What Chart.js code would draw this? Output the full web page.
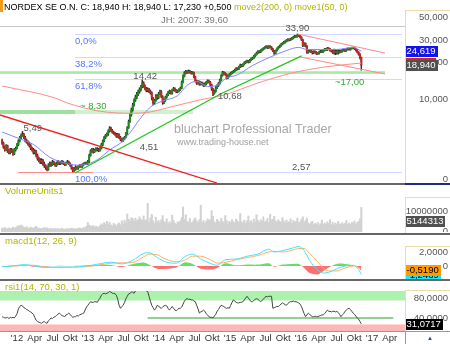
<!DOCTYPE html>
<html><head><meta charset="utf-8">
<script src="https://cdn.jsdelivr.net/npm/chart.js@4.4.1/dist/chart.umd.min.js"></script>
<style>
html,body{margin:0;padding:0;background:#fff;}
body{position:relative;width:450px;height:344px;overflow:hidden;font-family:"Liberation Sans",Arial,sans-serif;}
canvas{position:absolute;left:0;}
.t{position:absolute;white-space:nowrap;font-size:9.5px;line-height:12px;}
.ln{position:absolute;}
</style></head><body>
<canvas id="cMain" width="450" height="173" style="top:10px"></canvas>
<canvas id="cVol" width="450" height="46" style="top:186px"></canvas>
<canvas id="cMacd" width="450" height="44" style="top:235px"></canvas>
<canvas id="cRsi" width="450" height="53" style="top:291px"></canvas>
<div class="ln" style="left:0;top:0;width:3px;height:12px;background:#f39a1e"></div>
<div class="t" style="left:4px;top:1px;color:#000;font-size:9px">NORDEX SE O.N. C: 18,940 H: 18,940 L: 17,230 +0,500 <span style="color:#b4b400">move2(200, 0) move1(50, 0)</span></div>
<div class="t" style="left:5px;top:185px;color:#b4b400">VolumeUnits1</div>
<div class="t" style="left:5px;top:235px;color:#b4b400">macd1(12, 26, 9)</div>
<div class="t" style="left:5px;top:281px;color:#b4b400">rsi1(14, 70, 30, 1)</div>
<div class="ln" style="left:405px;top:10px;width:44px;height:172px;border-left:1px solid #ecdca8;border-top:1px solid #ecdca8"></div>
<div class="ln" style="left:405px;top:197px;width:44px;height:35px;border-left:1px solid #ecdca8;border-top:1px solid #ecdca8"></div>
<div class="ln" style="left:405px;top:246px;width:44px;height:32px;border-left:1px solid #ecdca8;border-top:1px solid #ecdca8"></div>
<div class="ln" style="left:405px;top:290px;width:44px;height:40px;border-left:1px solid #ecdca8;border-top:1px solid #ecdca8"></div>
<div class="ln" style="left:0;top:183px;width:405px;height:2px;background:#666"></div>
<div class="ln" style="left:405px;top:183px;width:45px;height:2px;background:#1c2c80"></div>
<div class="ln" style="left:0;top:233px;width:450px;height:2px;background:#666"></div>
<div class="ln" style="left:0;top:279px;width:450px;height:2px;background:#666"></div>
<div class="ln" style="left:0;top:331px;width:450px;height:1px;background:#999"></div>
<div class="ln" style="left:405px;top:331px;width:1px;height:13px;background:#999"></div>
<div class="t" style="left:427px;top:332px;color:#2040a0;font-size:6px">&#9650;</div>
<script>
// ---------------- data ----------------
const START_DATE = 2011.79;          // first weekly candle (fractional year)
const WEEK = 7 / 365.25;
const firstOpen = 4.6;
const closes = [4.4,4.1,3.9,4.2,3.8,3.7,3.9,3.8,3.6,3.9,
4.0,4.3,4.6,4.9,5.1,5.2,4.9,4.6,4.5,4.4,
4.2,4.0,3.9,3.7,3.8,3.5,3.3,3.2,3.1,3.2,
3.0,2.9,2.8,2.7,2.9,3.0,2.95,3.1,3.0,2.9,
3.0,3.1,3.0,3.05,3.1,3.0,2.95,3.05,3.1,3.0,
2.9,2.75,2.65,2.7,2.8,2.75,2.85,2.9,2.85,2.95,
3.0,3.05,3.0,3.1,3.5,3.8,3.9,3.75,3.85,3.95,
3.9,3.85,4.0,4.3,4.6,4.9,5.1,5.2,5.5,5.8,
5.6,5.4,5.3,5.2,5.0,5.2,4.9,4.7,4.6,4.8,
4.9,5.3,5.9,6.6,7.5,8.2,9.0,9.8,10.4,11.0,
11.5,12.0,12.6,13.6,12.8,12.2,11.8,12.1,11.6,11.3,
10.2,9.3,9.8,10.6,10.3,11.1,11.6,10.5,9.4,9.8,
10.4,10.9,11.3,11.6,11.2,11.9,12.2,11.8,11.5,11.7,
12.0,12.3,13.8,15.4,16.4,16.8,16.5,16.9,16.6,16.3,
16.5,15.2,14.1,13.5,13.9,13.2,13.6,13.4,12.9,13.3,
13.7,14.1,13.8,13.1,12.1,11.2,11.6,12.4,12.9,13.4,
14.3,15.6,16.5,16.2,15.9,14.9,15.4,15.9,16.3,16.6,
16.9,17.3,17.8,17.6,18.3,18.9,18.6,19.2,19.8,20.1,
20.4,20.0,20.8,21.3,21.6,22.4,23.0,23.8,24.5,24.2,
24.9,25.4,25.9,26.4,26.8,26.2,26.9,26.5,25.6,24.8,
23.6,24.9,25.8,26.5,27.2,27.9,28.5,29.0,29.6,30.1,
30.6,30.2,30.9,31.3,32.0,32.6,32.2,33.2,32.8,32.0,
30.5,27.3,28.4,27.0,24.1,24.6,24.9,24.3,23.8,24.4,
24.1,23.5,23.6,24.2,24.6,24.3,24.9,25.5,25.2,26.0,
25.6,25.0,24.6,24.1,24.5,23.9,24.3,24.1,24.6,24.4,
24.9,25.2,24.8,25.4,25.7,25.3,25.8,26.1,26.2,25.6,
25.0,24.1,23.2,21.7,18.94];
const highs = [4.75,4.5,4.2,4.3,4.25,3.9,4.0,4.0,3.9,4.0,
4.1,4.4,4.7,5.0,5.25,5.49,5.3,5.0,4.75,4.6,
4.5,4.3,4.1,4.0,3.9,3.85,3.6,3.4,3.3,3.3,
3.25,3.1,2.95,2.85,3.0,3.1,3.1,3.2,3.15,3.05,
3.1,3.2,3.15,3.15,3.2,3.15,3.05,3.1,3.2,3.15,
3.05,2.95,2.8,2.8,2.9,2.85,2.9,2.95,2.95,3.0,
3.05,3.1,3.1,3.2,3.6,3.9,4.0,4.0,3.95,4.05,
4.05,4.0,4.1,4.4,4.7,5.0,5.2,5.35,5.65,6.0,
5.95,5.7,5.5,5.4,5.3,5.3,5.25,5.0,4.8,4.9,
5.0,5.4,6.0,6.8,7.7,8.5,9.3,10.1,10.8,11.4,
11.9,12.4,13.0,14.42,13.9,13.1,12.5,12.4,12.3,11.9,
11.5,10.4,10.0,10.9,10.9,11.4,11.9,11.8,10.7,10.0,
10.6,11.1,11.6,11.9,11.8,12.1,12.5,12.4,12.0,11.9,
12.2,12.6,14.1,15.8,16.8,17.2,17.1,17.3,17.2,16.9,
16.8,16.6,15.4,14.3,14.2,14.1,13.9,13.8,13.6,13.6,
14.0,14.4,14.3,14.0,13.3,12.3,11.9,12.7,13.2,13.7,
14.6,15.9,16.9,16.8,16.5,16.1,15.7,16.2,16.6,16.9,
17.2,17.6,18.1,18.1,18.6,19.3,19.2,19.5,20.2,20.5,
20.8,20.7,21.1,21.7,22.0,22.8,23.4,24.2,24.9,24.9,
25.3,25.8,26.3,26.8,27.3,27.2,27.3,27.3,26.8,25.9,
25.0,25.2,26.2,26.9,27.6,28.3,28.9,29.5,30.0,30.6,
31.1,31.0,31.4,31.8,32.5,33.1,33.0,33.9,33.6,33.1,
32.3,30.8,28.9,28.7,27.3,25.1,25.4,25.3,24.7,24.8,
24.8,24.4,24.0,24.6,25.0,25.0,25.3,25.9,25.9,26.4,
26.3,25.9,25.3,25.0,25.6,25.4,25.2,25.3,25.2,25.1,
25.4,25.6,25.5,25.8,26.1,26.0,26.2,26.5,26.6,26.5,
25.9,25.3,24.4,23.5,22.0];
const lows = [4.3,4.0,3.8,3.85,3.7,3.6,3.6,3.7,3.5,3.55,
3.8,3.95,4.2,4.5,4.8,5.0,4.8,4.5,4.4,4.25,
4.1,3.9,3.8,3.6,3.6,3.4,3.2,3.1,3.0,3.0,
2.9,2.8,2.7,2.62,2.65,2.85,2.85,2.9,2.95,2.85,
2.85,2.95,2.95,2.95,3.0,2.95,2.9,2.9,3.0,2.95,
2.85,2.7,2.57,2.6,2.65,2.7,2.7,2.8,2.8,2.8,
2.9,2.95,2.95,2.95,3.05,3.45,3.7,3.65,3.7,3.8,
3.8,3.75,3.8,3.95,4.2,4.5,4.8,5.0,5.1,5.4,
5.5,5.3,5.2,5.1,4.9,4.9,4.8,4.6,4.51,4.55,
4.7,4.85,5.2,5.8,6.5,7.3,8.0,8.8,9.6,10.1,
10.7,11.2,11.7,12.4,12.5,11.9,11.5,11.5,11.3,11.0,
9.9,9.0,9.1,9.6,10.0,10.1,10.9,10.3,9.1,9.2,
9.6,10.2,10.7,11.1,11.0,11.0,11.7,11.6,11.3,11.3,
11.5,11.8,12.2,13.6,15.2,16.1,16.2,16.3,16.3,16.0,
16.0,14.9,13.8,13.2,13.3,13.0,13.0,13.1,12.7,12.7,
13.1,13.5,13.6,12.9,11.8,10.68,11.0,11.4,12.2,12.7,
13.2,14.1,15.4,15.9,15.6,14.6,14.7,15.2,15.7,16.1,
16.4,16.7,17.1,17.3,17.4,18.1,18.3,18.4,19.0,19.5,
19.8,19.7,19.8,20.6,21.0,21.4,22.1,22.8,23.5,23.8,
23.9,24.6,25.1,25.6,26.1,25.8,25.9,26.1,25.2,24.4,
23.1,23.4,24.6,25.5,26.2,26.9,27.6,28.1,28.6,29.2,
29.7,29.8,29.9,30.5,30.9,31.6,31.8,31.9,32.3,31.5,
30.0,26.8,27.0,26.6,23.6,23.7,24.2,23.9,23.3,23.4,
23.7,23.1,23.1,23.3,23.9,23.9,24.0,24.6,24.8,24.9,
25.2,24.6,24.2,23.6,23.2,23.0,23.2,23.3,23.7,23.9,
24.1,24.6,24.4,24.5,25.1,25.0,25.0,25.5,25.8,25.3,
24.6,23.8,22.8,21.3,17.23];
const volumesM = [1.9,1.6,2.2,1.7,1.5,2.0,1.6,1.8,2.4,1.7,
2.2,2.6,3.2,2.8,3.4,3.0,2.3,2.0,2.6,1.9,
1.8,2.4,2.1,1.7,2.3,2.8,2.0,1.9,1.6,1.8,
1.7,2.2,1.9,2.0,1.6,1.5,1.8,1.4,1.7,1.6,
1.5,1.7,1.4,1.6,1.8,1.5,1.3,1.6,1.4,1.7,
1.5,1.9,1.7,1.4,1.6,1.5,1.8,2.0,1.7,1.6,
2.2,1.9,2.8,4.6,3.4,3.0,2.6,3.2,2.4,2.8,
2.6,2.1,3.2,4.0,3.5,4.6,3.8,5.2,3.6,4.8,
3.4,3.0,4.2,3.6,2.8,3.9,4.4,3.5,5.5,4.0,
5.8,4.6,8.8,6.2,5.4,7.0,6.5,5.2,6.8,5.5,
6.0,7.4,6.2,5.6,7.8,5.6,6.0,14.0,4.6,6.8,
8.6,5.4,4.2,7.2,4.8,5.6,4.4,6.0,8.0,5.2,
4.6,6.4,4.0,5.0,4.4,8.2,5.6,4.2,3.8,5.0,
4.6,5.4,7.0,12.2,6.2,8.4,5.2,4.8,6.6,4.4,
5.0,6.0,6.8,5.4,4.6,6.0,13.0,4.8,5.6,4.2,
5.2,6.4,5.8,6.0,10.4,7.6,5.0,4.4,6.2,5.4,
4.8,6.6,5.2,4.4,8.0,5.6,4.0,5.2,4.6,6.0,
5.0,4.4,6.2,5.4,4.8,9.0,5.0,4.6,5.8,4.2,
5.4,7.8,4.8,5.6,4.4,6.4,5.0,8.4,5.6,4.6,
6.0,5.2,7.4,4.8,5.4,6.6,4.6,8.6,5.8,6.2,
7.6,5.4,4.8,6.0,5.2,4.6,7.0,5.4,4.4,5.8,
4.6,5.0,6.4,4.2,5.6,4.8,5.2,6.8,4.6,5.0,
6.2,7.4,4.8,5.6,6.8,4.4,3.8,4.6,5.2,3.6,
4.2,3.8,4.6,3.4,4.0,5.8,3.6,4.4,3.8,5.0,
4.2,6.0,3.6,4.8,3.4,4.4,3.8,5.2,4.0,3.6,
4.6,3.8,4.2,5.6,3.6,4.4,3.8,4.8,4.2,5.4,
3.8,4.6,5.2,6.4,12.0];
const rsiValues = [43,42,41,41,42,40,42,41,42,41,
44,48,56,60,62,61,58,57,55,54,
52,51,49,47,42,37,35,34,33,32,
34,35,33,32,36,38,41,40,42,43,
45,47,49,47,45,44,43,46,47,49,
47,44,42,43,43,45,44,46,47,48,
49,54,59,62,65,68,67,67,68,68,
67,71,74,79,81,82,81,82,83,85,
84,82,82,81,79,72,62,57,60,62,
67,73,77,81,82,84,84,82,86,88,
90,89,91,92,90,88,86,85,77,69,
62,58,54,57,62,61,58,57,59,61,
62,61,57,54,57,60,57,54,53,55,
57,57,59,64,69,72,73,72,72,71,
71,69,68,62,56,49,51,52,54,52,
48,46,43,42,42,41,44,47,52,55,
59,62,61,60,58,57,58,57,62,67,
71,69,67,66,66,67,67,68,71,74,
77,74,71,68,68,70,72,73,72,70,
68,70,72,75,77,76,77,77,77,57,
58,59,60,60,62,64,66,65,63,62,
65,67,68,68,69,68,68,67,66,64,
60,54,48,43,46,49,47,45,43,43,
44,43,43,44,45,46,46,48,51,54,
52,52,51,52,52,51,52,50,47,43,
46,48,52,54,56,57,55,52,49,47,
44,41,39,35,31.07];
const maFastWeeks  = [0,11,23,35,48,57,65,72,79,87,94,101,109,118,129,136,143,151,158,165,173,184,197,209,218,224,234,246,258,264];
const maFastValues = [5.43,4.87,4.30,3.39,3.0,2.92,3.04,3.34,3.88,4.42,5.35,6.86,8.64,9.7,10.7,13.0,14.0,12.7,13.0,14.9,15.8,18.8,22.0,24.9,26.4,25.4,25.4,25.4,26.4,24.62];
const maSlowWeeks  = [0,39,48,72,96,109,121,145,163,188,213,237,264];
const maSlowValues = [12.83,10.25,9.33,8.0,7.7,7.9,8.5,9.87,10.84,13.56,16.35,18.3,19.7];
const macdWeeks   = [0,10,16,24,30,40,52,62,70,80,88,96,104,108,114,120,128,134,140,146,154,158,164,172,180,188,196,200,206,214,218,222,226,232,236,240,246,252,258,262,264];
const macdValues  = [-0.1,0.05,0.2,0.0,-0.2,-0.15,-0.15,0.0,0.25,0.55,0.3,0.8,1.8,1.9,1.2,0.6,0.4,1.3,1.7,1.0,0.3,0.1,0.9,1.0,1.4,1.7,2.4,2.0,2.2,2.6,2.8,2.2,0.8,-0.6,-1.0,-0.9,-0.4,0.0,0.1,-0.5,-1.24];
const signalValues= [-0.1,0.0,0.1,0.1,-0.1,-0.2,-0.15,-0.1,0.1,0.4,0.45,0.5,1.3,1.7,1.6,1.0,0.6,0.8,1.4,1.4,0.8,0.4,0.5,0.9,1.2,1.5,2.0,2.1,2.0,2.3,2.5,2.5,1.8,0.6,-0.3,-0.7,-0.7,-0.3,0.0,-0.2,-0.52];
const quarterLabels = ["'12","Apr","Jul","Okt","'13","Apr","Jul","Okt","'14","Apr","Jul","Okt","'15","Apr","Jul","Okt","'16","Apr","Jul","Okt","'17","Apr"];
const quarterDates  = [2012,2012.25,2012.5,2012.75,2013,2013.25,2013.5,2013.75,2014,2014.25,2014.5,2014.75,2015,2015.25,2015.5,2015.75,2016,2016.25,2016.5,2016.75,2017,2017.25];
const priceTickValues = [2.255,10,20,30,50];
const priceTickLabels = ['0','10,000','20,000','30,000','50,000'];
const fibLevels = [33.90,21.93,14.54,2.57];
const fibLabels = ['0,0%','38,2%','61,8%','100,0%'];
const jhLevel = 39.60;
const band17 = [16.1,16.9];
const band830 = [7.6,8.2];
const rsiUpper = 70, rsiLower = 30, rsiSupport = 41;
const lastClose = 18.94, lastMaFast = 24.619, lastMaSlow = 19.7;
const lastVolume = 5144313, lastMacd = -1.2439, lastSignal = -0.5190, lastRsi = 31.0717;

// ---------------- helpers ----------------
const FONT = '"Liberation Sans", Arial, sans-serif';
const wd = i => START_DATE + i * WEEK;
const X_MIN = 2011.7606, X_MAX = 2017.4648;
function linRange(top, h, v1, y1, v2, y2) { const k = (y2 - y1) / (v2 - v1); return { max: v1 + (top - y1) / k, min: v1 + (top + h - y1) / k }; }
function logRange(top, h, v1, y1, v2, y2) { const k = (y2 - y1) / (Math.log(v2) - Math.log(v1)); return { max: Math.exp(Math.log(v1) + (top - y1) / k), min: Math.exp(Math.log(v1) + (top + h - y1) / k) }; }
function text(ctx, s, x, y, color, size, align, base) { ctx.save(); ctx.font = size + 'px ' + FONT; ctx.fillStyle = color; ctx.textAlign = align || 'left'; ctx.textBaseline = base || 'alphabetic'; ctx.fillText(s, x, y); ctx.restore(); }
function valueBox(ctx, s, yc, bg, fg) {
  ctx.save(); ctx.font = '9.5px ' + FONT; const w = Math.ceil(ctx.measureText(s).width) + 3;
  ctx.fillStyle = bg; ctx.fillRect(405, Math.round(yc) - 5, w, 11); ctx.restore();
  text(ctx, s, 406.5, Math.round(yc) + 0.5, fg, 9.5, 'left', 'middle');
}
function axisLabel(chart, s, y, minOffset) { const top = chart.chartArea.top; text(chart.ctx, s, 448, Math.max(y, top + (minOffset || 0)), '#555', 9.5, 'right', 'middle'); }
const xHidden = { type: 'linear', min: X_MIN, max: X_MAX, display: false, offset: false };
function yRight(extra) { return Object.assign({ position: 'right', ticks: { display: false }, grid: { display: false, drawTicks: false }, border: { display: false }, afterFit: s => { s.width = 45; } }, extra); }
const baseOpts = { responsive: false, animation: false, devicePixelRatio: 1, events: [], layout: { padding: 0 }, plugins: { legend: { display: false }, tooltip: { enabled: false } } };

// ---------------- main price chart ----------------
const mainR = logRange(10, 173, 2.57, 172, 33.9, 34);
const opens = closes.map((c, i) => i ? closes[i - 1] : firstOpen);
const mainPlugin = {
  id: 'mainDecor',
  beforeDatasetsDraw(chart) {
    const { ctx, chartArea: a, scales: { x, y } } = chart;
    const X = v => x.getPixelForValue(v), Y = v => y.getPixelForValue(v);
    ctx.save(); ctx.beginPath(); ctx.rect(a.left, a.top, a.width, a.height); ctx.clip();
    const hl = (v, x0, x1, col, w) => { ctx.strokeStyle = col; ctx.lineWidth = w; ctx.beginPath(); ctx.moveTo(X(x0), Math.round(Y(v)) + 0.5); ctx.lineTo(X(x1), Math.round(Y(v)) + 0.5); ctx.stroke(); };
    const band = (lo, hi, x0, x1, col) => { ctx.fillStyle = col; ctx.fillRect(X(x0), Y(hi), X(x1) - X(x0), Y(lo) - Y(hi)); };
    hl(jhLevel, X_MIN, X_MAX, '#c8c8c8', 1);
    band(band830[0], band830[1], X_MIN, 2012.817, '#9fe09f');
    band(band830[0], band830[1], 2012.817, 2014.48, '#cdf2cd');
    band(band17[0], band17[1], X_MIN, 2017.183, '#a8e8a8');
    fibLevels.forEach(v => hl(v, 2012.817, 2017.42, '#d0d8ff', 1));
    hl(2.55, 2012.014, 2013.07, '#ff8a8a', 1);
    ctx.restore();
  },
  afterDatasetsDraw(chart) {
    const { ctx, chartArea: a, scales: { x, y } } = chart;
    const X = v => x.getPixelForValue(v), Y = v => y.getPixelForValue(v);
    ctx.save(); ctx.beginPath(); ctx.rect(a.left, a.top, a.width, a.height); ctx.clip();
    const seg = (pts, col, w) => { ctx.strokeStyle = col; ctx.lineWidth = w; ctx.beginPath(); pts.forEach((p, k) => k ? ctx.lineTo(X(p[0]), Y(p[1])) : ctx.moveTo(X(p[0]), Y(p[1]))); ctx.stroke(); };
    seg([[X_MIN, 7.46], [2014.817, 2.09]], '#f02020', 1.3);
    seg([[2012.817, 2.52], [2014.887, 11.2], [2016.01, 22.5]], '#22c422', 1.3);
    seg([[2015.95, 33.9], [2017.183, 23.76]], '#ff8a8a', 1);
    seg([[2015.99, 22.05], [2017.183, 16.05]], '#ff8a8a', 1);
    // watermark
    text(ctx, 'bluchart Professional Trader', 174, a.top + 123, '#a8a8a8', 12.6);
    text(ctx, 'www.trading-house.net', 177, a.top + 135, '#a0a0a0', 9);
    // annotations
    const g = '#555';
    text(ctx, '33,90', X(wd(217)), Y(33.9) - 3, g, 9.5, 'center');
    text(ctx, '14,42', X(wd(103)) + 3, Y(14.42) - 1, g, 9.5, 'center');
    text(ctx, '10,68', X(wd(155)) + 5, Y(10.68) + 3, g, 9.5, 'left');
    text(ctx, '5,49', X(wd(15)) + 1, Y(5.49), g, 9.5, 'left');
    text(ctx, '4,51', X(wd(88)) + 18, Y(4.51) + 8, g, 9.5, 'left');
    text(ctx, '2,57', X(2015.873), Y(2.57) - 2, g, 9.5, 'left');
    text(ctx, '~ 8,30', X(2012.887), Y(band830[1]) - 1, '#33aa33', 9.5, 'left');
    text(ctx, '~17,00', X(2016.479), Y(band17[0]) + 11, '#33aa33', 9.5, 'left');
    fibLevels.forEach((v, k) => text(ctx, fibLabels[k], X(2012.817), Y(v) + 10, '#5577ff', 9.5, 'left'));
    text(ctx, 'JH: 2007: 39,60', X(2014.972), Y(jhLevel) - 3, '#777', 9.5, 'right');
    ctx.restore();
    // right axis labels + value boxes
    priceTickValues.forEach((v, k) => axisLabel(chart, priceTickLabels[k], Y(v), 7));
    ctx.fillStyle = '#e02020'; ctx.fillRect(405, Math.round(Y(lastMaSlow)) - 5, 31, 10);
    valueBox(ctx, '18,940', Y(lastClose), '#505050', '#fff');
    valueBox(ctx, '24,619', Y(lastMaFast), '#1414f0', '#fff');
  }
};
new Chart(document.getElementById('cMain'), {
  type: 'bar',
  data: { datasets: [
    { type: 'line', data: maSlowWeeks.map((w, k) => ({ x: wd(w), y: maSlowValues[k] })), borderColor: '#ff8c8c', borderWidth: 1, pointRadius: 0, cubicInterpolationMode: 'monotone', order: 0 },
    { type: 'line', data: maFastWeeks.map((w, k) => ({ x: wd(w), y: maFastValues[k] })), borderColor: '#8484ff', borderWidth: 1, pointRadius: 0, cubicInterpolationMode: 'monotone', order: 0 },
    { type: 'bar', data: closes.map((c, i) => ({ x: wd(i), y: [lows[i], highs[i]] })), backgroundColor: '#2a2a2a', barThickness: 0.8, grouped: false, order: 2 },
    { type: 'bar', data: closes.map((c, i) => ({ x: wd(i), y: [opens[i], c] })), backgroundColor: closes.map((c, i) => c >= opens[i] ? '#1d8a1d' : '#c42424'), barThickness: 1.4, grouped: false, order: 1 }
  ] },
  options: Object.assign({}, baseOpts, { scales: { x: xHidden, y: yRight({ type: 'logarithmic', min: mainR.min, max: mainR.max }) } }),
  plugins: [mainPlugin]
});

// ---------------- volume ----------------
const volR = linRange(186, 46, 0, 232, 1e7, 211.5);
new Chart(document.getElementById('cVol'), {
  type: 'bar',
  data: { datasets: [{ data: volumesM.map((v, i) => ({ x: wd(i), y: v * 1e6 })), backgroundColor: '#d2d2d2', barThickness: 1.4 }] },
  options: Object.assign({}, baseOpts, { scales: { x: xHidden, y: yRight({ type: 'linear', min: volR.min, max: volR.max }) } }),
  plugins: [{ id: 'volDecor', afterDatasetsDraw(chart) {
    const { ctx, scales: { y } } = chart; const Y = v => y.getPixelForValue(v);
    axisLabel(chart, '10000000', Y(1e7)); axisLabel(chart, '0', Y(0) - 1);
    valueBox(ctx, '5144313', Y(lastVolume), '#505050', '#fff');
  } }]
});

// ---------------- MACD ----------------
const macdR = linRange(235, 44, 0, 266, 2, 252);
const histValues = macdValues.map((m, k) => m - signalValues[k]);
new Chart(document.getElementById('cMacd'), {
  type: 'line',
  data: { datasets: [
    { data: macdWeeks.map((w, k) => ({ x: wd(w), y: histValues[k] })), borderWidth: 0, pointRadius: 0, fill: { target: 'origin', above: '#66dd66', below: '#ff6e6e' }, tension: 0.3, order: 2 },
    { data: macdWeeks.map((w, k) => ({ x: wd(w), y: signalValues[k] })), borderColor: '#ffb060', borderWidth: 1, pointRadius: 0, cubicInterpolationMode: 'monotone', order: 1 },
    { data: macdWeeks.map((w, k) => ({ x: wd(w), y: macdValues[k] })), borderColor: '#40e4ff', borderWidth: 1, pointRadius: 0, cubicInterpolationMode: 'monotone', order: 0 }
  ] },
  options: Object.assign({}, baseOpts, { scales: { x: xHidden, y: yRight({ type: 'linear', min: macdR.min, max: macdR.max }) } }),
  plugins: [{ id: 'macdDecor', afterDatasetsDraw(chart) {
    const { ctx, scales: { y } } = chart; const Y = v => y.getPixelForValue(v);
    axisLabel(chart, '2,0000', Y(2)); axisLabel(chart, '0', Y(0));
    valueBox(ctx, '-1,2439', Y(lastMacd), '#22e4f4', '#000');
    valueBox(ctx, '-0,5190', Y(lastSignal), '#ff9a00', '#000');
  } }]
});

// ---------------- RSI + time axis ----------------
const rsiR = linRange(291, 40, 70, 300.5, 30, 324.5);
new Chart(document.getElementById('cRsi'), {
  type: 'line',
  data: { datasets: [{ data: rsiValues.map((v, i) => ({ x: wd(i), y: v })), borderColor: '#444', borderWidth: 1, pointRadius: 0, tension: 0 }] },
  options: Object.assign({}, baseOpts, { scales: {
    x: { type: 'linear', min: X_MIN, max: X_MAX, offset: false, grid: { display: false, drawTicks: false }, border: { display: false },
         afterBuildTicks: s => { s.ticks = quarterDates.map(v => ({ value: v })); },
         afterFit: s => { s.height = 13; },
         ticks: { autoSkip: false, maxRotation: 0, minRotation: 0, padding: 2, color: '#333', font: { size: 9.5, family: FONT }, callback: (v, i) => quarterLabels[i] } },
    y: yRight({ type: 'linear', min: rsiR.min, max: rsiR.max }) } }),
  plugins: [{ id: 'rsiDecor',
    beforeDatasetsDraw(chart) {
      const { ctx, chartArea: a, scales: { x, y } } = chart; const X = v => x.getPixelForValue(v), Y = v => y.getPixelForValue(v);
      ctx.save(); ctx.beginPath(); ctx.rect(a.left, a.top, a.width, a.height); ctx.clip();
      ctx.fillStyle = '#aef0ae'; ctx.fillRect(a.left, Y(100), a.width, Y(rsiUpper) - Y(100));
      ctx.fillStyle = '#ffb6b6'; ctx.fillRect(a.left, Y(rsiLower), a.width, Y(0) - Y(rsiLower));
      ctx.strokeStyle = '#6cc06c'; ctx.lineWidth = 1.5; ctx.beginPath(); ctx.moveTo(X(wd(107)), Y(rsiSupport)); ctx.lineTo(X(2017.3), Y(rsiSupport)); ctx.stroke();
      ctx.restore();
    },
    afterDatasetsDraw(chart) {
      const { ctx, scales: { y } } = chart; const Y = v => y.getPixelForValue(v);
      axisLabel(chart, '80,0000', Y(80), 7); axisLabel(chart, '40,0000', Y(40));
      valueBox(ctx, '31,0717', Y(lastRsi), '#000', '#fff');
    } }]
});
</script>
</body></html>
